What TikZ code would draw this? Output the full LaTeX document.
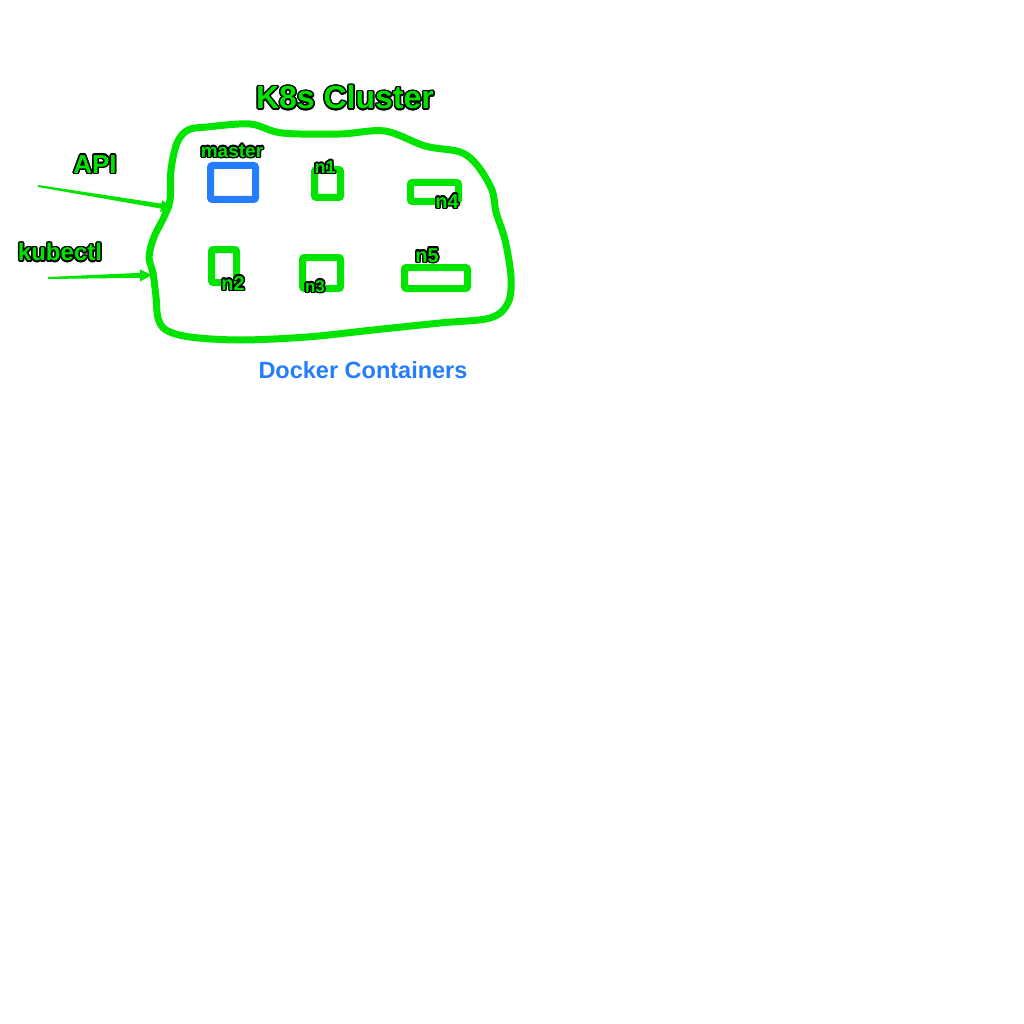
\documentclass[tikz,border=0pt]{standalone}
\usepackage{fontspec}
\setmainfont{Liberation Sans}
\usepackage[copies]{contour}
\usetikzlibrary{calc}
\definecolor{kgreen}{RGB}{0,228,0}
\definecolor{kblue}{RGB}{36,124,255}
\contourlength{1.5pt}
\contournumber{16}
\tikzset{
  box/.style={draw=kgreen, line width=7pt, rounded corners=2pt, inner sep=0pt},
  bluebox/.style={box, draw=kblue},
  lbl/.style={inner sep=0pt, font=\bfseries},
}
\newcommand\gtext[2]{\fontsize{#1}{#1}\selectfont\contour{black}{\textcolor{kgreen}{#2}}}
\begin{document}
\begin{tikzpicture}[x=1pt, y=-1pt]
\useasboundingbox (0,0) rectangle (1024,1024);
\coordinate (APIS) at (38,186); % api start
\coordinate (APIT) at (173,208); % api tip
\coordinate (KUBS) at (48,278); % kubectl start
\coordinate (KUBT) at (152,275); % kubectl tip
% cluster outline
\draw[kgreen, line width=7pt, line join=round] plot[smooth cycle, tension=0.55] coordinates {
  (188,130) (207,127) (250,124) (282,133) (340,134) (385,131) (425,146) (460,152)
  (477,165) (492,190) (496,212) (505,240) (511,277) (508,303) (490,318) (440,323)
  (373,330) (307,337) (240,340) (190,337) (166,330) (158,318) (156,297) (153,273)
  (149,257) (154,237) (164,217) (170,200) (171,170) (177,143)};
% containers
\node[bluebox, minimum width=45pt, minimum height=34pt] (master) at (233,182.5) {};
\node[box, minimum width=26pt, minimum height=28pt] (n1) at (327.5,183.5) {};
\node[box, minimum width=48pt, minimum height=19pt] (n4) at (434.5,192) {};
\node[box, minimum width=25pt, minimum height=33pt] (n2) at (224,266) {};
\node[box, minimum width=38pt, minimum height=31pt] (n3) at (321.5,273) {};
\node[box, minimum width=63pt, minimum height=21pt] (n5) at (436,278) {};
% labels
\node[lbl] (mastertxt) at (232,152) {\gtext{19}{master}};
\node[lbl] (n1txt) at (325,168) {\gtext{18}{n1}};
\node[lbl] (n4txt) at (447,202) {\gtext{20}{n4}};
\node[lbl] (n2txt) at (233,284) {\gtext{20}{n2}};
\node[lbl] (n3txt) at (315,287) {\gtext{17}{n3}};
\node[lbl] (n5txt) at (427,256) {\gtext{20}{n5}};
\node[lbl] (title) at (345,98) {\gtext{32}{K8s Cluster}};
\node[lbl] (apitxt) at (95,165) {\gtext{26}{API}};
\node[lbl] (kubtxt) at (60,253) {\gtext{24}{kubectl}};
\node[lbl, kblue] (docker) at (363,370) {\fontsize{23.5}{24}\selectfont Docker Containers};
% arrows
\foreach \s/\t in {APIS/APIT, KUBS/KUBT} {
  \coordinate (B) at ($(\t)!12pt!(\s)$);
  \fill[kgreen] ($(\s)!1pt!90:(\t)$) -- ($(B)!2.5pt!90:(\t)$) -- ($(B)!6pt!90:(\t)$) -- (\t)
    -- ($(B)!6pt!-90:(\t)$) -- ($(B)!2.5pt!-90:(\t)$) -- ($(\s)!1pt!-90:(\t)$) -- cycle;
}
\end{tikzpicture}
\end{document}
